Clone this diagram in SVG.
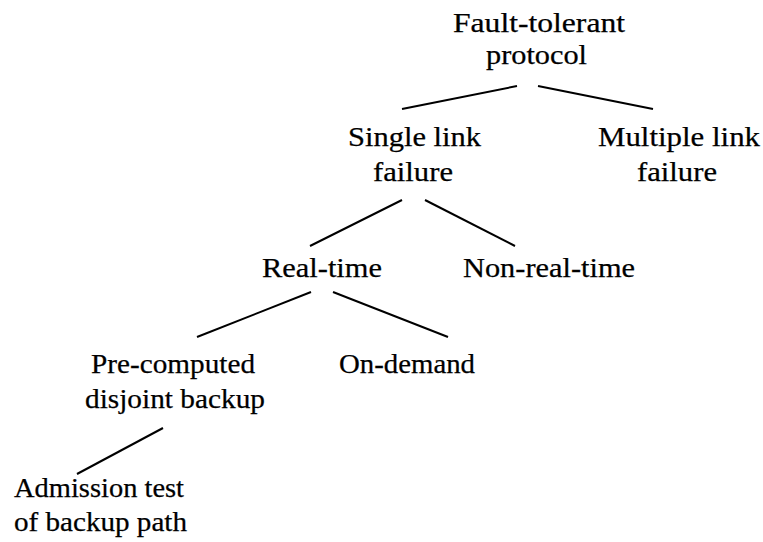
<svg xmlns="http://www.w3.org/2000/svg" width="763" height="542" viewBox="0 0 763 542">
<style>
text { font-family: "Liberation Serif", "Times New Roman", serif; font-size: 28px; fill: #000; stroke: #000; stroke-width: 0.25; }
.c line { stroke: #000; stroke-width: 2; stroke-linecap: butt; }
</style>
<rect width="763" height="542" fill="#fff"/>
<g class="c" id="connectors">
  <line x1="517" y1="86" x2="402" y2="109"/>
  <line x1="538" y1="86" x2="653" y2="109"/>
  <line x1="402" y1="200" x2="310" y2="246"/>
  <line x1="425" y1="200" x2="515" y2="246"/>
  <line x1="311" y1="292" x2="197" y2="337"/>
  <line x1="333" y1="292" x2="448" y2="337"/>
  <line x1="163" y1="428" x2="77" y2="474"/>
</g>
<g id="root">
  <text x="453" y="32" textLength="172" lengthAdjust="spacingAndGlyphs">Fault-tolerant</text>
  <text x="486" y="64" textLength="101" lengthAdjust="spacingAndGlyphs">protocol</text>
</g>
<g id="single">
  <text x="348" y="146" textLength="133" lengthAdjust="spacingAndGlyphs">Single link</text>
  <text x="373" y="181" textLength="80" lengthAdjust="spacingAndGlyphs">failure</text>
</g>
<g id="multiple">
  <text x="598" y="146" textLength="162" lengthAdjust="spacingAndGlyphs">Multiple link</text>
  <text x="637" y="181" textLength="80" lengthAdjust="spacingAndGlyphs">failure</text>
</g>
<g id="realtime">
  <text x="262" y="277" textLength="120" lengthAdjust="spacingAndGlyphs">Real-time</text>
</g>
<g id="nonrealtime">
  <text x="463" y="277" textLength="172" lengthAdjust="spacingAndGlyphs">Non-real-time</text>
</g>
<g id="precomputed">
  <text x="91" y="373" textLength="164" lengthAdjust="spacingAndGlyphs">Pre-computed</text>
  <text x="85" y="408" textLength="180" lengthAdjust="spacingAndGlyphs">disjoint backup</text>
</g>
<g id="ondemand">
  <text x="339" y="373" textLength="136" lengthAdjust="spacingAndGlyphs">On-demand</text>
</g>
<g id="admission">
  <text x="14" y="497" textLength="170" lengthAdjust="spacingAndGlyphs">Admission test</text>
  <text x="14" y="531" textLength="173" lengthAdjust="spacingAndGlyphs">of backup path</text>
</g>
</svg>
